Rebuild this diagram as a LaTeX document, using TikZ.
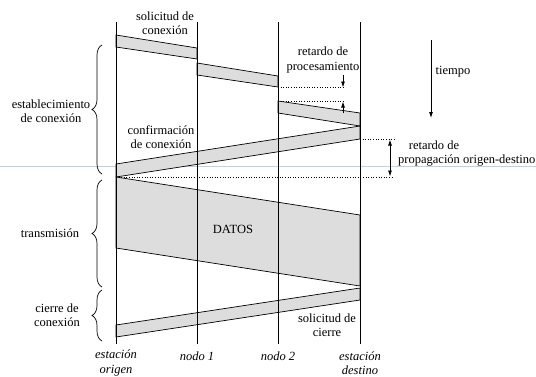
\documentclass[tikz,border=0pt]{standalone}
\usepackage{fontspec}
\setmainfont{Liberation Serif}
\usetikzlibrary{decorations.pathreplacing,arrows.meta}
\definecolor{bandgray}{RGB}{221,221,221}
\definecolor{guide}{RGB}{195,205,235}
\begin{document}
\begin{tikzpicture}[x=1pt,y=-1pt,
  band/.style={fill=bandgray,draw=black,line width=0.7pt},
  vline/.style={line width=0.8pt},
  lbl/.style={font=\fontsize{12.5}{14.5}\selectfont,align=center,inner sep=0pt},
  ilbl/.style={lbl,font=\fontsize{12.5}{14.5}\selectfont\itshape},
  dotline/.style={dotted,line width=0.6pt},
  brc/.style={decorate,decoration={brace,amplitude=10pt},line width=0.7pt},
  arr/.style={-{Latex[length=6pt,width=4pt]},line width=0.8pt},
  darr/.style={{Latex[length=6pt,width=4pt]}-{Latex[length=6pt,width=4pt]},line width=0.8pt}
]
\useasboundingbox (0,0) rectangle (536,376);
% light guide line
\coordinate (g1) at (0,166);
\coordinate (g2) at (536,166);
\draw[guide,line width=0.5pt] (g1) -- (g2);
% station lines
\coordinate (oT) at (116,22); \coordinate (oB) at (116,344);
\coordinate (aT) at (197,22); \coordinate (aB) at (197,344);
\coordinate (bT) at (278,22); \coordinate (bB) at (278,344);
\coordinate (dT) at (360,22); \coordinate (dB) at (360,344);
% bands
\draw[band] (116,35) -- (197,48) -- (197,59) -- (116,47) -- cycle;
\draw[band] (197,63) -- (278,76) -- (278,87) -- (197,75) -- cycle;
\draw[band] (278,101) -- (360,113) -- (360,126) -- (278,113) -- cycle;
\draw[band] (360,126) -- (116,164) -- (116,177) -- (360,139) -- cycle;
\draw[band] (116,177) -- (360,215) -- (360,286) -- (116,248) -- cycle;
\draw[band] (360,288) -- (116,325) -- (116,337) -- (360,300) -- cycle;
\draw[vline] (oT) -- (oB);
\draw[vline] (aT) -- (aB);
\draw[vline] (bT) -- (bB);
\draw[vline] (dT) -- (dB);
% dotted guides
\coordinate (p1a) at (278,87); \coordinate (p1b) at (345,87);
\coordinate (p2a) at (278,101); \coordinate (p2b) at (345,101);
\coordinate (q1a) at (360,139); \coordinate (q1b) at (394,139);
\coordinate (q2a) at (116,177); \coordinate (q2b) at (394,177);
\draw[dotline] (p1a) -- (p1b);
\draw[dotline] (p2a) -- (p2b);
\draw[dotline] (q1a) -- (q1b);
\draw[dotline] (q2a) -- (q2b);
% processing delay arrows
\coordinate (r1) at (343,75); \coordinate (r2) at (343,87.5);
\coordinate (r3) at (343,113); \coordinate (r4) at (343,101.5);
\draw[arr] (r1) -- (r2);
\draw[arr] (r3) -- (r4);
% propagation delay arrow
\coordinate (s1) at (390,139.5); \coordinate (s2) at (390,176.5);
\draw[darr] (s1) -- (s2);
% time arrow
\coordinate (t1) at (431,40); \coordinate (t2) at (431,118);
\draw[arr] (t1) -- (t2);
% braces
\coordinate (b1s) at (102,174); \coordinate (b1e) at (102,45);
\coordinate (b2s) at (102,287); \coordinate (b2e) at (102,180);
\coordinate (b3s) at (102,341); \coordinate (b3e) at (102,290);
\draw[brc] (b1s) -- (b1e);
\draw[brc] (b2s) -- (b2e);
\draw[brc] (b3s) -- (b3e);
% labels
\node[lbl] (l1) at (165,23) {solicitud de\\conexión};
\node[lbl] (l2) at (323,60) {retardo de\\procesamiento};
\node[lbl] (l3) at (453,72) {tiempo};
\node[lbl] (l4) at (434,145) {retardo de};
\node[lbl,anchor=west] (l5) at (398,160) {propagación origen-destino};
\node[lbl] (l6) at (161,137) {confirmación\\de conexión};
\node[lbl] (l7) at (233,229) {DATOS};
\node[lbl] (l8) at (327,325) {solicitud de\\cierre};
\node[lbl] (l9) at (51,111) {establecimiento\\de conexión};
\node[lbl] (l10) at (50,233) {transmisión};
\node[lbl] (l11) at (57,315) {cierre de\\conexión};
\node[ilbl] (n1) at (116,363) {estación\\origen};
\node[ilbl] (n2) at (197,356) {nodo 1};
\node[ilbl] (n3) at (278,356) {nodo 2};
\node[ilbl] (n4) at (360,363) {estación\\destino};
\end{tikzpicture}
\end{document}
